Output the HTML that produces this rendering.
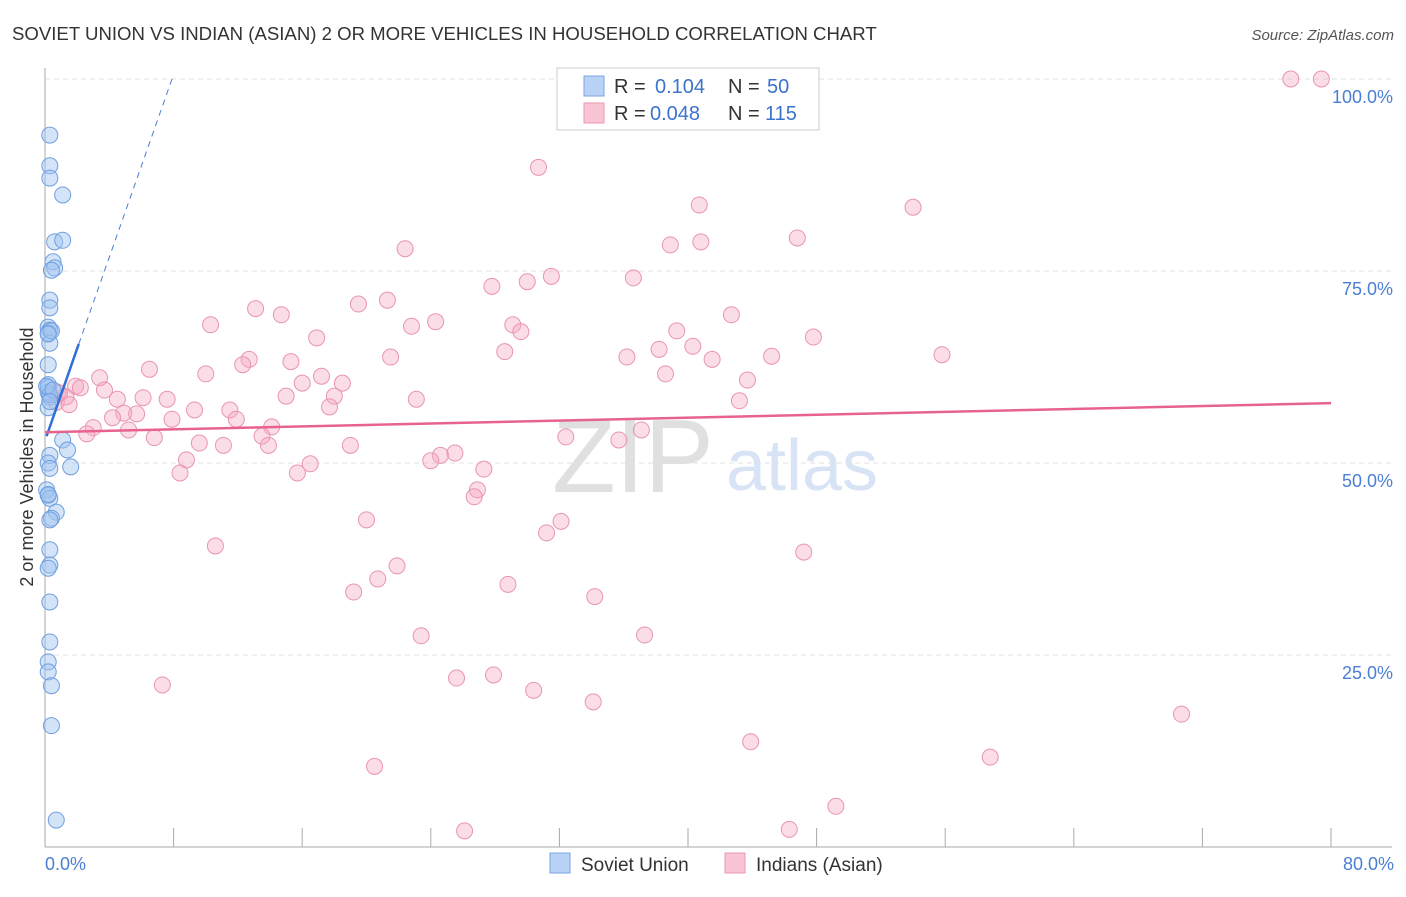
<!DOCTYPE html>
<html><head><meta charset="utf-8"><style>
body{margin:0;background:#fff;font-family:"Liberation Sans",sans-serif}
svg text{font-family:"Liberation Sans",sans-serif}
</style></head><body>
<svg id="c" width="1406" height="892">
<text x="12" y="40" font-size="18.6" fill="#333">SOVIET UNION VS INDIAN (ASIAN) 2 OR MORE VEHICLES IN HOUSEHOLD CORRELATION CHART</text>
<text x="1394" y="40" font-size="15" fill="#555" text-anchor="end" font-style="italic">Source: ZipAtlas.com</text>
<text x="633" y="492" font-size="104" fill="#e0e0e0" font-family="Liberation Serif" text-anchor="middle">ZIP</text>
<text x="802" y="490" font-size="72" fill="#d8e4f5" text-anchor="middle">atlas</text>
<g id="grid"></g>
<g id="axes"></g>
<g id="pts"></g>
<g id="lines"></g>
<text x="33" y="457" font-size="18" fill="#333" text-anchor="middle" transform="rotate(-90 33 457)">2 or more Vehicles in Household</text>
<text x="45" y="870" font-size="18" fill="#4a7fd4">0.0%</text>
<text x="1394" y="870" font-size="18" fill="#4a7fd4" text-anchor="end">80.0%</text>
<g>
<rect x="557" y="68" width="262" height="62" fill="#fff" stroke="#ccc"/>
<rect x="584" y="76" width="20" height="20" fill="#b8d3f5" stroke="#7aa6e0"/>
<rect x="584" y="103" width="20" height="20" fill="#f9c4d4" stroke="#e99ab3"/>
<text y="93" font-size="20" fill="#333"><tspan x="614">R =</tspan><tspan x="655" fill="#3b73cc">0.104</tspan><tspan x="728">N =</tspan><tspan x="767" fill="#3b73cc">50</tspan></text>
<text y="120" font-size="20" fill="#333"><tspan x="614">R =</tspan><tspan x="650" fill="#3b73cc">0.048</tspan><tspan x="728">N =</tspan><tspan x="765" fill="#3b73cc">115</tspan></text>
</g>
<g>
<rect x="550" y="853" width="20" height="20" fill="#b8d3f5" stroke="#7aa6e0"/>
<text x="581" y="871" font-size="19" fill="#333">Soviet Union</text>
<rect x="725" y="853" width="20" height="20" fill="#f9c4d4" stroke="#e99ab3"/>
<text x="756" y="871" font-size="19" fill="#333">Indians (Asian)</text>
</g>
</svg>
<script>
const yTicks=[25,50,75,100];
const yTickLabels=["25.0%","50.0%","75.0%","100.0%"];
const sovietX=[0.3,0.3,0.3,1.1,0.6,1.1,0.5,0.6,0.4,0.3,0.3,0.2,0.3,0.2,0.3,0.2,0.2,0.2,0.3,0.2,1.1,1.4,0.3,0.2,0.3,1.6,0.1,0.2,0.3,0.7,0.4,0.3,0.3,0.3,0.2,0.3,0.3,0.2,0.2,0.4,0.4,0.7,0.2,0.3,0.1,0.4,0.2,0.5,0.3,0.2];
const sovietY=[92.7,88.7,87.1,84.9,78.8,79.0,76.2,75.4,75.1,71.2,70.2,67.7,67.3,66.9,65.6,62.8,60.2,59.2,58.6,57.2,53.0,51.7,51.0,50.0,49.3,49.5,46.5,45.8,45.4,43.6,42.8,42.6,38.7,36.7,36.3,31.9,26.7,24.1,22.8,21.0,15.8,3.5,59.8,58.9,60.0,67.2,66.8,59.5,58.0,45.9];
const indianX=[77.5,79.4,30.7,40.7,54.0,46.8,40.8,38.9,22.4,31.5,36.6,30.0,27.8,21.3,19.5,13.1,14.7,42.7,10.3,24.3,22.8,29.1,29.6,39.3,16.9,47.8,38.2,40.3,28.6,36.2,55.8,45.2,41.5,21.5,12.7,12.3,15.3,6.5,10.0,38.6,17.2,43.7,3.4,16.0,18.5,1.9,3.7,0.8,1.3,2.2,15.0,18.0,23.1,43.2,4.5,7.6,6.1,0.7,17.7,9.3,11.5,4.9,5.7,4.2,7.9,11.9,5.2,3.0,2.6,14.1,13.5,37.1,32.4,35.7,6.8,9.6,11.1,13.9,19.0,24.6,25.5,8.8,24.0,16.5,27.3,15.7,8.4,26.9,26.7,20.0,32.1,31.2,10.6,47.2,21.9,20.7,28.8,19.2,34.2,23.4,37.3,7.3,27.9,25.6,30.4,34.1,70.7,43.9,58.8,20.5,49.2,26.1,46.3,1.5,0.9];
const indianY=[100,100,88.5,83.6,83.3,79.3,78.8,78.4,77.9,74.3,74.1,73.6,73.0,71.2,70.7,70.1,69.3,69.3,68.0,68.4,67.8,68.0,67.1,67.2,66.3,66.4,64.8,65.2,64.5,63.8,64.1,63.9,63.5,63.8,63.5,62.8,63.2,62.2,61.6,61.6,61.3,60.8,61.1,60.4,60.4,60.0,59.5,59.2,58.6,59.8,58.7,58.7,58.3,58.1,58.3,58.3,58.5,57.9,57.3,56.9,56.9,56.5,56.4,55.9,55.7,55.7,54.3,54.6,53.8,54.7,53.5,54.3,53.4,53.0,53.3,52.6,52.3,52.3,52.3,51.0,51.3,50.4,50.3,49.9,49.2,48.7,48.7,46.5,45.6,42.6,42.4,40.9,39.2,38.4,36.6,34.9,34.2,33.2,32.6,27.5,27.6,21.1,22.4,22.0,20.4,18.9,17.3,13.7,11.7,10.5,5.3,2.1,2.3,57.6,59.1];
const sovietTrend=[[0.1,53.5],[2.1,65.5]];
const sovietDash=[[2.1,65.5],[7.9,100]];
const indianTrend=[[0,54.0],[80,57.8]];
const X=v=>45+v/80*1286, Y=v=>847-v*7.68;
const NS="http://www.w3.org/2000/svg";
function mk(t,a,p){const e=document.createElementNS(NS,t);for(const k in a)e.setAttribute(k,a[k]);p.appendChild(e);return e;}
const grid=document.getElementById('grid'),axes=document.getElementById('axes'),pts=document.getElementById('pts'),lines=document.getElementById('lines');
yTicks.forEach((t,i)=>{
 const g=mk('line',{x1:45,x2:1392,y1:Y(t),y2:Y(t),stroke:'#e2e2e2','stroke-dasharray':'5,4'},grid);
 
 
 const tx=mk('text',{x:1393,y:Y(t)+24,'font-size':18,fill:'#4a7fd4','text-anchor':'end'},grid);
 tx.textContent=yTickLabels[i];
 
 
});
const ax=mk('line',{x1:45,x2:45,y1:68,y2:847,stroke:'#aaa'},axes);


const bx=mk('line',{x1:45,x2:1392,y1:847,y2:847,stroke:'#aaa'},axes);


for(let i=1;i<=10;i++){
 const t=mk('line',{x1:X(i*8),x2:X(i*8),y1:828,y2:847,stroke:'#aaa'},axes);
 
 
}
indianX.forEach((v,i)=>{
 const c=mk('circle',{cx:X(v),cy:Y(indianY[i]),r:8,fill:'rgba(245,170,195,0.4)',stroke:'#e995b0','stroke-width':1},pts);
 
 
});
sovietX.forEach((v,i)=>{
 const c=mk('circle',{cx:X(v),cy:Y(sovietY[i]),r:8,fill:'rgba(160,195,240,0.45)',stroke:'#6f9fe0','stroke-width':1},pts);
 
 
});
function ln(p,attrs,name){const l=mk('line',Object.assign({x1:X(p[0][0]),y1:Y(p[0][1]),x2:X(p[1][0]),y2:Y(p[1][1])},attrs),lines);
 
 }
ln(sovietDash,{stroke:'#4a7fd4','stroke-width':1,'stroke-dasharray':'6,5'},'soviet-trend-extension');
ln(sovietTrend,{stroke:'#2f6fd6','stroke-width':2.5},'soviet-trend-line');
ln(indianTrend,{stroke:'#e8628f','stroke-width':2.5},'indian-trend-line');
</script>
</body></html>
